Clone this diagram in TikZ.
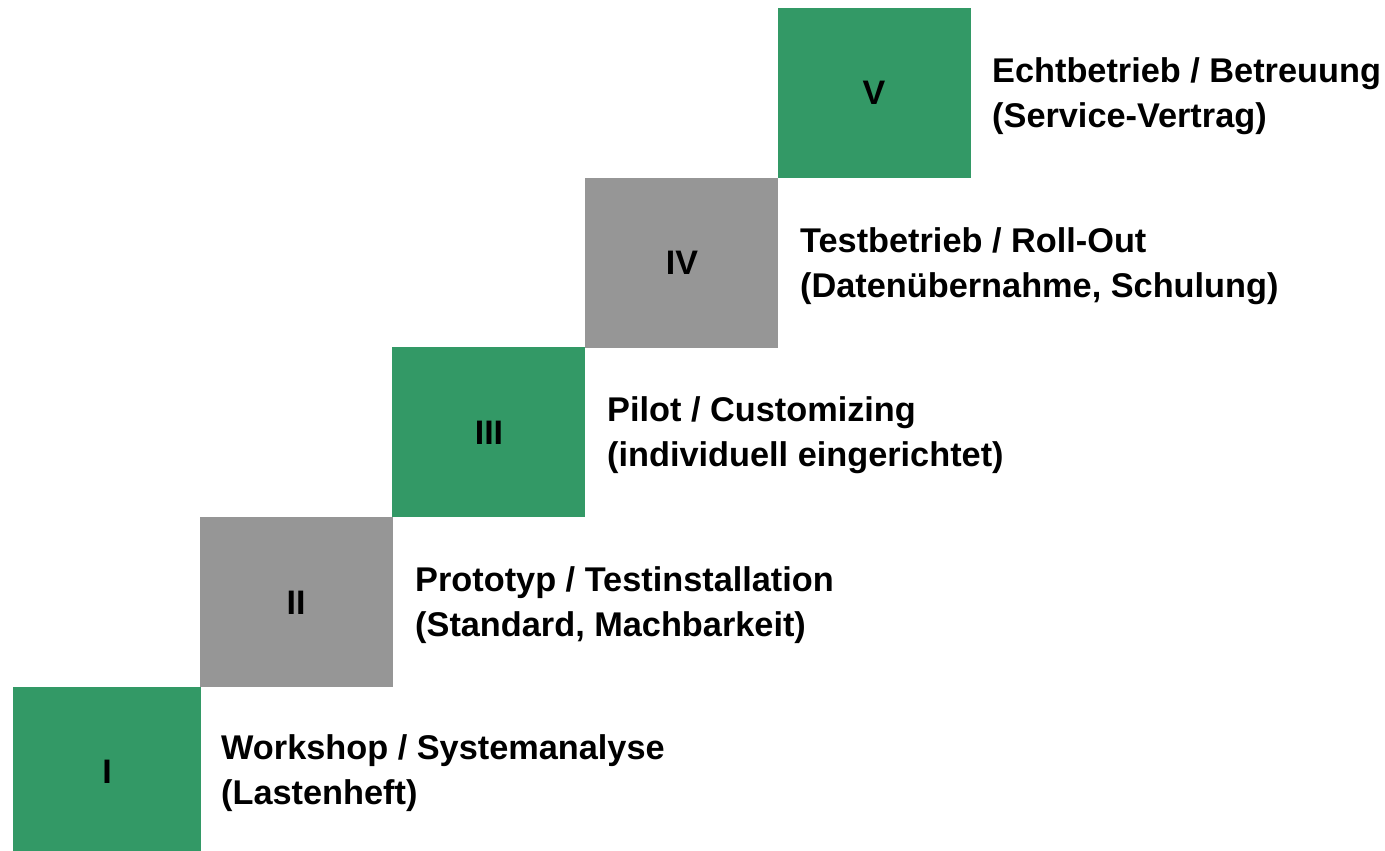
\documentclass[tikz,border=0pt]{standalone}
\usepackage{fontspec}
\setmainfont{Liberation Sans}
\definecolor{stepgreen}{RGB}{51,153,102}
\definecolor{stepgray}{RGB}{150,150,150}
\begin{document}
\begin{tikzpicture}[x=1pt,y=-1pt,
  numeral/.style={font=\fontsize{34}{40}\selectfont\bfseries, inner sep=0pt},
  label/.style={font=\fontsize{34.3}{45}\selectfont\bfseries, align=left, inner sep=0pt, anchor=base west}]
\useasboundingbox (0,0) rectangle (1385,851);
% boxes
\fill[stepgreen] (13,687) rectangle (201,851);
\fill[stepgray] (200,517) rectangle (393,687);
\fill[stepgreen] (392,347) rectangle (585,517);
\fill[stepgray] (585,178) rectangle (778,348);
\fill[stepgreen] (778,8) rectangle (971,178);
% numerals
\node[numeral] (n1) at (107,772) {I};
\node[numeral] (n2) at (296,603) {II};
\node[numeral] (n3) at (489,433) {III};
\node[numeral] (n4) at (682,263) {IV};
\node[numeral] (n5) at (874,93) {V};
% labels (anchor = baseline of the last line)
\node[label] (l1) at (221,804) {Workshop / Systemanalyse\\(Lastenheft)};
\node[label] (l2) at (415,636) {Prototyp / Testinstallation\\(Standard, Machbarkeit)};
\node[label] (l3) at (607,466) {Pilot / Customizing\\(individuell eingerichtet)};
\node[label] (l4) at (800,297) {Testbetrieb / Roll-Out\\(Datenübernahme, Schulung)};
\node[label] (l5) at (992,128) {Echtbetrieb / Betreuung\\(Service-Vertrag)};
\end{tikzpicture}
\end{document}
